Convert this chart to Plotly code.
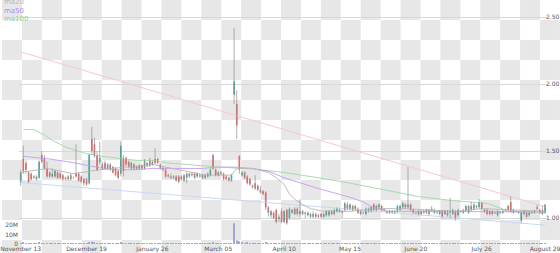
import pandas as pd
import plotly.graph_objects as go

W, H = 560, 253
ML, MR, MT, MB = 17, 13, 0, 9

holidays = ['2017-11-23', '2017-12-25', '2018-01-01', '2018-01-15',
            '2018-02-19', '2018-03-30', '2018-05-28', '2018-07-04']
dates = pd.bdate_range('2017-11-13', '2018-08-29', freq='C',
                       holidays=holidays).strftime('%Y-%m-%d').tolist()

open_ = [1.27, 1.44, 1.41, 1.34, 1.33, 1.31, 1.29, 1.30, 1.47, 1.45,
         1.37, 1.34, 1.31, 1.31, 1.34, 1.33, 1.32, 1.30, 1.29, 1.32,
         1.30, 1.33, 1.33, 1.31, 1.29, 1.29, 1.26, 1.59, 1.55, 1.47,
         1.42, 1.40, 1.41, 1.37, 1.40, 1.38, 1.37, 1.35, 1.33, 1.45,
         1.45, 1.42, 1.37, 1.40, 1.38, 1.37, 1.39, 1.37, 1.41, 1.43,
         1.40, 1.44, 1.44, 1.40, 1.37, 1.36, 1.32, 1.31, 1.30, 1.31,
         1.31, 1.31, 1.28, 1.33, 1.31, 1.33, 1.33, 1.31, 1.32, 1.32,
         1.30, 1.31, 1.32, 1.47, 1.36, 1.32, 1.34, 1.33, 1.31, 1.30,
         1.28, 1.92, 1.85, 1.46, 1.32, 1.34, 1.31, 1.29, 1.23, 1.26,
         1.24, 1.21, 1.20, 1.19, 1.08, 1.02, 1.04, 1.06, 0.99, 1.05,
         0.97, 1.06, 1.00, 1.06, 1.03, 1.07, 1.03, 1.05, 1.03, 1.02,
         1.03, 1.01, 1.03, 1.02, 1.03, 1.01, 1.02, 1.02, 1.05, 1.03,
         1.05, 1.05, 1.05, 1.06, 1.10, 1.07, 1.09, 1.07, 1.07, 1.05,
         1.04, 1.03, 1.07, 1.05, 1.10, 1.06, 1.08, 1.09, 1.06, 1.05,
         1.05, 1.05, 1.04, 1.05, 1.06, 1.08, 1.10, 1.08, 1.10, 1.06,
         1.04, 1.03, 1.03, 1.05, 1.06, 1.03, 1.07, 1.04, 1.04, 1.03,
         1.05, 1.05, 1.02, 1.04, 1.03, 1.05, 1.02, 1.045, 1.06, 1.06,
         1.04, 1.09, 1.07, 1.09, 1.08, 1.11, 1.05, 1.06, 1.05, 1.05,
         1.04, 1.02, 1.045, 1.04, 1.06, 1.09, 1.12, 1.04, 1.05, 1.045,
         0.98, 1.05, 1.04, 1.02, 1.04, 1.04, 1.08, 1.06, 1.06, 1.04]
high = [1.36, 1.54, 1.43, 1.35, 1.34, 1.32, 1.32, 1.43, 1.50, 1.47,
        1.42, 1.35, 1.37, 1.36, 1.35, 1.34, 1.33, 1.31, 1.32, 1.33,
        1.31, 1.55, 1.34, 1.32, 1.30, 1.30, 1.48, 1.68, 1.60, 1.50,
        1.57, 1.42, 1.43, 1.41, 1.41, 1.39, 1.38, 1.36, 1.57, 1.47,
        1.46, 1.43, 1.42, 1.41, 1.39, 1.40, 1.40, 1.44, 1.42, 1.45,
        1.43, 1.52, 1.45, 1.41, 1.38, 1.37, 1.33, 1.33, 1.32, 1.32,
        1.32, 1.32, 1.33, 1.34, 1.34, 1.34, 1.34, 1.34, 1.33, 1.33,
        1.33, 1.34, 1.37, 1.48, 1.37, 1.35, 1.35, 1.34, 1.32, 1.31,
        1.33, 2.42, 1.95, 1.47, 1.35, 1.35, 1.32, 1.30, 1.25, 1.32,
        1.25, 1.24, 1.21, 1.20, 1.09, 1.06, 1.05, 1.07, 1.03, 1.07,
        1.06, 1.07, 1.08, 1.07, 1.08, 1.08, 1.14, 1.06, 1.05, 1.05,
        1.04, 1.05, 1.04, 1.03, 1.04, 1.04, 1.06, 1.06, 1.06, 1.07,
        1.08, 1.07, 1.06, 1.12, 1.12, 1.11, 1.10, 1.10, 1.08, 1.06,
        1.05, 1.08, 1.08, 1.09, 1.11, 1.10, 1.11, 1.10, 1.07, 1.06,
        1.06, 1.06, 1.06, 1.10, 1.10, 1.12, 1.11, 1.38, 1.11, 1.07,
        1.05, 1.06, 1.06, 1.06, 1.07, 1.07, 1.09, 1.07, 1.05, 1.06,
        1.06, 1.06, 1.06, 1.15, 1.07, 1.06, 1.07, 1.05, 1.07, 1.10,
        1.10, 1.12, 1.11, 1.10, 1.14, 1.12, 1.07, 1.07, 1.06, 1.06,
        1.05, 1.06, 1.05, 1.06, 1.07, 1.10, 1.16, 1.07, 1.055, 1.05,
        1.05, 1.06, 1.05, 1.05, 1.05, 1.06, 1.10, 1.07, 1.09, 1.10]
low = [1.24, 1.33, 1.33, 1.26, 1.28, 1.29, 1.28, 1.29, 1.41, 1.36,
       1.30, 1.30, 1.30, 1.30, 1.29, 1.29, 1.28, 1.28, 1.28, 1.28,
       1.29, 1.30, 1.27, 1.26, 1.24, 1.24, 1.25, 1.47, 1.45, 1.35,
       1.40, 1.36, 1.36, 1.36, 1.35, 1.33, 1.31, 1.29, 1.31, 1.31,
       1.39, 1.37, 1.36, 1.36, 1.36, 1.36, 1.36, 1.36, 1.38, 1.38,
       1.39, 1.40, 1.40, 1.36, 1.35, 1.30, 1.30, 1.29, 1.29, 1.27,
       1.26, 1.28, 1.27, 1.26, 1.30, 1.31, 1.29, 1.30, 1.30, 1.29,
       1.29, 1.30, 1.31, 1.36, 1.31, 1.31, 1.32, 1.28, 1.28, 1.27,
       1.27, 1.85, 1.59, 1.33, 1.31, 1.29, 1.25, 1.24, 1.22, 1.21,
       1.20, 1.18, 1.17, 1.06, 1.01, 1.00, 0.99, 0.96, 0.97, 0.96,
       0.96, 0.95, 0.99, 1.03, 1.02, 1.02, 1.01, 1.02, 1.00, 1.01,
       1.00, 1.00, 1.00, 1.00, 1.00, 1.00, 1.01, 1.01, 1.02, 1.02,
       1.04, 1.04, 1.00, 1.05, 1.06, 1.06, 1.05, 1.06, 1.03, 1.02,
       1.03, 1.02, 1.04, 1.04, 1.05, 1.05, 1.07, 1.05, 1.05, 1.03,
       1.03, 1.03, 1.03, 1.04, 1.05, 1.07, 1.07, 1.07, 1.05, 1.03,
       1.03, 1.02, 1.02, 1.03, 1.03, 1.02, 1.05, 1.03, 1.03, 1.02,
       1.00, 1.02, 1.01, 1.00, 1.02, 0.98, 1.01, 1.04, 1.03, 1.05,
       1.03, 1.05, 1.06, 1.07, 1.07, 1.06, 1.04, 1.02, 1.02, 1.02,
       1.03, 1.01, 1.03, 1.03, 1.05, 1.05, 1.04, 1.03, 1.04, 1.03,
       0.96, 1.02, 1.00, 1.01, 1.03, 1.03, 1.06, 1.03, 1.02, 1.03]
close = [1.34, 1.35, 1.36, 1.27, 1.29, 1.30, 1.31, 1.42, 1.42, 1.37,
         1.31, 1.31, 1.33, 1.35, 1.30, 1.30, 1.29, 1.29, 1.31, 1.29,
         1.30, 1.31, 1.28, 1.27, 1.26, 1.25, 1.47, 1.50, 1.46, 1.36,
         1.45, 1.37, 1.37, 1.40, 1.36, 1.34, 1.32, 1.30, 1.54, 1.35,
         1.40, 1.38, 1.41, 1.37, 1.37, 1.39, 1.37, 1.43, 1.39, 1.39,
         1.42, 1.41, 1.41, 1.37, 1.36, 1.31, 1.31, 1.30, 1.31, 1.28,
         1.27, 1.29, 1.32, 1.30, 1.33, 1.32, 1.30, 1.33, 1.31, 1.30,
         1.32, 1.33, 1.36, 1.37, 1.32, 1.34, 1.33, 1.29, 1.29, 1.28,
         1.32, 2.02, 1.69, 1.36, 1.34, 1.30, 1.26, 1.25, 1.24, 1.22,
         1.21, 1.19, 1.18, 1.08, 1.04, 1.05, 1.00, 0.97, 1.01, 0.97,
         1.05, 0.96, 1.07, 1.04, 1.07, 1.03, 1.05, 1.03, 1.04, 1.04,
         1.01, 1.03, 1.01, 1.01, 1.01, 1.03, 1.05, 1.05, 1.03, 1.06,
         1.07, 1.06, 1.04, 1.11, 1.07, 1.10, 1.06, 1.09, 1.04, 1.03,
         1.035, 1.07, 1.05, 1.08, 1.06, 1.09, 1.10, 1.06, 1.065, 1.04,
         1.04, 1.04, 1.05, 1.09, 1.09, 1.11, 1.08, 1.10, 1.06, 1.04,
         1.035, 1.05, 1.05, 1.04, 1.04, 1.06, 1.06, 1.06, 1.035, 1.05,
         1.01, 1.03, 1.04, 1.045, 1.06, 1.00, 1.06, 1.05, 1.04, 1.09,
         1.09, 1.06, 1.10, 1.08, 1.12, 1.07, 1.06, 1.03, 1.03, 1.03,
         1.035, 1.05, 1.04, 1.055, 1.06, 1.06, 1.05, 1.06, 1.045, 1.04,
         1.05, 1.03, 1.01, 1.04, 1.045, 1.05, 1.07, 1.04, 1.03, 1.10]
volume_m = [0.6, 1.5, 0.8, 0.7, 0.5, 0.4, 0.4, 1.2, 0.9, 0.6,
            0.5, 0.4, 0.4, 0.4, 0.4, 0.3, 0.3, 0.3, 0.3, 0.3,
            0.3, 0.8, 0.4, 0.4, 0.5, 0.5, 2.0, 2.5, 1.2, 0.8,
            0.7, 0.5, 0.4, 0.4, 0.4, 0.4, 0.4, 0.5, 1.8, 1.0,
            0.6, 0.4, 0.4, 0.3, 0.3, 0.3, 0.3, 0.5, 0.4, 0.4,
            0.4, 0.6, 0.4, 0.4, 0.3, 0.4, 0.3, 0.3, 0.3, 0.3,
            0.3, 0.3, 0.3, 0.3, 0.3, 0.3, 0.3, 0.3, 0.3, 0.3,
            0.3, 0.3, 0.4, 1.2, 0.5, 0.3, 0.3, 0.3, 0.3, 0.3,
            0.4, 21.8, 4.0, 3.0, 1.5, 1.0, 1.2, 0.8, 0.6, 1.0,
            0.6, 0.6, 0.5, 1.5, 1.0, 0.8, 0.6, 1.0, 0.6, 0.7,
            0.6, 0.9, 0.7, 0.4, 0.4, 0.4, 0.6, 0.3, 0.3, 0.3,
            0.3, 0.3, 0.3, 0.3, 0.3, 0.3, 0.3, 0.3, 0.3, 0.3,
            0.3, 0.3, 0.3, 0.6, 0.4, 0.3, 0.3, 0.3, 0.3, 0.3,
            0.3, 0.3, 0.3, 0.3, 0.3, 0.3, 0.3, 0.3, 0.3, 0.3,
            0.3, 0.3, 0.3, 0.3, 0.3, 0.3, 0.3, 1.0, 0.4, 0.3,
            0.3, 0.3, 0.3, 0.3, 0.3, 0.3, 0.3, 0.3, 0.3, 0.3,
            0.3, 0.3, 0.3, 0.8, 0.3, 0.4, 0.3, 0.3, 0.3, 0.3,
            0.3, 0.3, 0.3, 0.3, 0.4, 0.3, 0.3, 0.3, 0.3, 0.3,
            0.3, 0.3, 0.3, 0.3, 0.3, 0.3, 1.0, 0.3, 0.3, 0.3,
            0.8, 0.3, 0.3, 0.3, 0.3, 0.3, 0.4, 0.3, 0.4, 0.6]

ma20_idx = [0, 10, 20, 30, 40, 50, 60, 70, 80, 82, 88, 94, 97, 100, 102, 104,
            107, 110, 115, 125, 135, 145, 155, 165, 175, 185, 199]
ma20_val = [1.34, 1.37, 1.33, 1.36, 1.38, 1.40, 1.36, 1.32, 1.32, 1.37, 1.37,
            1.34, 1.30, 1.25, 1.18, 1.14, 1.10, 1.07, 1.05, 1.05, 1.07, 1.07,
            1.06, 1.05, 1.07, 1.06, 1.05]
ma50_idx = [1, 11, 18, 24, 30, 37, 43, 50, 56, 69, 75, 81, 88, 94, 100, 113,
            125, 130, 134, 139, 144, 163, 199]
ma50_val = [1.46, 1.44, 1.42, 1.40, 1.375, 1.36, 1.36, 1.37, 1.37, 1.37, 1.38,
            1.38, 1.37, 1.35, 1.30, 1.22, 1.155, 1.12, 1.075, 1.05, 1.05, 1.05,
            1.045]
ma100_idx = [1, 5, 9, 12, 17, 25, 31, 36, 44, 50, 56, 63, 75, 88, 100, 113, 125,
             138, 151, 164, 177, 182, 185, 199]
ma100_val = [1.66, 1.66, 1.62, 1.58, 1.53, 1.48, 1.46, 1.45, 1.43, 1.43, 1.41,
             1.40, 1.38, 1.366, 1.34, 1.30, 1.26, 1.21, 1.16, 1.13, 1.11, 1.075,
             1.05, 1.04]
trend_high_idx = [0, 199]
trend_high_val = [2.24, 1.085]
trend_low_idx = [0, 199]
trend_low_val = [1.265, 0.947]

tick_dates = ['2017-11-13', '2017-12-19', '2018-01-26', '2018-03-05', '2018-04-10',
              '2018-05-15', '2018-06-20', '2018-07-26', '2018-08-29']
tick_labels = ['November 13', 'December 19', 'January 26', 'March 05', 'April 10',
               'May 15', 'June 20', 'July 26', 'August 29']
price_ticks = [1.0, 1.5, 2.0, 2.5]
volume_ticks = [0, 10, 20]
volume_tick_labels = ['0', '10M', '20M']

assert len(dates) == len(open_) == len(high) == len(low) == len(close) == len(volume_m) == 200

FONT = 'DejaVu Sans'
GREEN, RED = '#26a69a', '#ef5350'

fig = go.Figure()

# volume
fig.add_trace(go.Bar(x=dates, y=volume_m, yaxis='y2', width=0.4,
                     marker=dict(color='#9fa8da', line=dict(width=0)),
                     showlegend=False, hoverinfo='skip'))

# trend lines
fig.add_trace(go.Scatter(x=[dates[i] for i in trend_high_idx], y=trend_high_val,
                         mode='lines', line=dict(color='#f7c6d3', width=1),
                         showlegend=False))
fig.add_trace(go.Scatter(x=[dates[i] for i in trend_low_idx], y=trend_low_val,
                         mode='lines', line=dict(color='#c9d8f2', width=1),
                         showlegend=False))

# moving averages
fig.add_trace(go.Scatter(x=[dates[i] for i in ma100_idx], y=ma100_val, mode='lines',
                         line=dict(color='#a6dbb0', width=1), name='ma100', showlegend=False))
fig.add_trace(go.Scatter(x=[dates[i] for i in ma50_idx], y=ma50_val, mode='lines',
                         line=dict(color='#c9a4f3', width=1), name='ma50', showlegend=False))
fig.add_trace(go.Scatter(x=[dates[i] for i in ma20_idx], y=ma20_val, mode='lines',
                         line=dict(color='#bdbdbd', width=1), name='ma20', showlegend=False))

# wicks
wx, wy = [], []
for d, lo, hi in zip(dates, low, high):
    wx += [d, d, d]
    wy += [lo, hi, None]
fig.add_trace(go.Scatter(x=wx, y=wy, mode='lines', connectgaps=False,
                         line=dict(color='rgba(150,150,150,0.75)', width=1),
                         showlegend=False, hoverinfo='skip'))

# bodies
fig.add_trace(go.Candlestick(x=dates, open=open_, high=high, low=low, close=close,
                             increasing=dict(fillcolor=GREEN, line=dict(color=GREEN, width=0)),
                             decreasing=dict(fillcolor=RED, line=dict(color=RED, width=0)),
                             whiskerwidth=0, showlegend=False))

# checkerboard page background (transparent-png look), paper-unit rectangles
pw, ph = W - ML - MR, H - MT - MB
CELL = 20


def px2paper(px, py):
    return (px - ML) / pw, 1 - (py - MT) / ph


shapes = []
for r in range((H + CELL - 1) // CELL):
    for c in range((W + CELL - 1) // CELL):
        if (r + c) % 2 == 0:
            x0, y0 = px2paper(c * CELL, r * CELL)
            x1, y1 = px2paper(min((c + 1) * CELL, W), min((r + 1) * CELL, H))
            shapes.append(dict(type='rect', xref='paper', yref='paper',
                               x0=x0, x1=x1, y0=y1, y1=y0, fillcolor='#e7e7e7',
                               line=dict(width=0), layer='below'))

legend_items = [('ma20', '#b8b8b8'), ('ma50', '#b48aef'), ('ma100', '#8fd09c')]
annotations = []
for k, (txt, col) in enumerate(legend_items):
    annotations.append(dict(text=txt, xref='paper', yref='paper',
                            x=-ML / pw, y=1 - (2 + 8.5 * k) / ph,
                            xanchor='left', yanchor='middle', showarrow=False,
                            font=dict(family=FONT, size=7, color=col)))

fig.update_layout(
    width=W, height=H,
    margin=dict(l=ML, r=MR, t=MT, b=MB, pad=0),
    paper_bgcolor='#ffffff', plot_bgcolor='rgba(0,0,0,0)',
    font=dict(family=FONT, size=6, color='#555555'),
    showlegend=False, boxgap=0.15,
    shapes=shapes,
    annotations=annotations,
    xaxis=dict(type='category', categoryorder='array', categoryarray=dates,
               range=[-0.64, 199.76], rangeslider=dict(visible=False),
               tickmode='array', tickvals=tick_dates, ticktext=tick_labels,
               showgrid=False, zeroline=False, showline=False, ticks='',
               tickfont=dict(size=6, color='#555555')),
    yaxis=dict(side='right', range=[0.806, 2.627], tickmode='array',
               tickvals=price_ticks, ticktext=['%.2f' % v for v in price_ticks],
               showgrid=True, gridcolor='#d8d8d8', gridwidth=1, zeroline=False,
               showline=False, ticks='', ticklabelstandoff=-2,
               tickfont=dict(size=6, color='#555555')),
    yaxis2=dict(overlaying='y', side='left', range=[0, 257], tickmode='array',
                tickvals=volume_ticks, ticktext=volume_tick_labels, showgrid=False,
                zeroline=False, showline=False, ticks='',
                tickfont=dict(size=6, color='#555555')),
)

fig.write_html('out.html')
